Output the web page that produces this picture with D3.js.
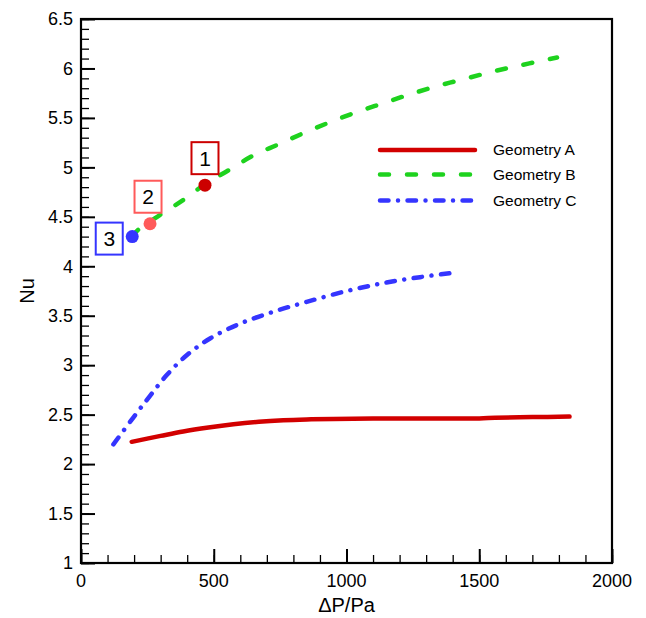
<!DOCTYPE html>
<html>
<head>
<meta charset="utf-8">
<script src="https://cdn.jsdelivr.net/npm/d3@7"></script>
<style>
  html, body { margin: 0; padding: 0; background: #fff; }
  svg { display: block; font-family: "Liberation Sans", Arial, Helvetica, sans-serif; }
</style>
</head>
<body>
<svg id="chart" width="646" height="618"></svg>
<script>
// Pressure drop (Pa) vs. Nusselt number for three geometries
const xGeomA = [191, 300, 385, 480, 574, 670, 762, 850, 950, 1100, 1300, 1500, 1560, 1700, 1840];
const nuGeomA = [2.225, 2.285, 2.33, 2.37, 2.403, 2.428, 2.443, 2.451, 2.456, 2.46, 2.46, 2.462, 2.468, 2.475, 2.48];

const xGeomB = [192, 216, 298, 385, 467, 555, 649, 750, 850, 950, 1051, 1151, 1252, 1352, 1453, 1553, 1653, 1754, 1793];
const nuGeomB = [4.30, 4.37, 4.52, 4.67, 4.83, 4.97, 5.12, 5.24, 5.36, 5.47, 5.57, 5.66, 5.75, 5.83, 5.90, 5.97, 6.03, 6.09, 6.11];

const xGeomC = [122, 197, 260, 323, 398, 486, 599, 724, 850, 1001, 1139, 1277, 1420];
const nuGeomC = [2.20, 2.47, 2.69, 2.90, 3.10, 3.27, 3.42, 3.54, 3.64, 3.75, 3.83, 3.89, 3.94];

const seriesNames = ["Geometry A", "Geometry B", "Geometry C"];

// Highlighted operating points
const pointLabels = ["1", "2", "3"];
const pointX = [467, 260, 193];
const pointNu = [4.82, 4.43, 4.30];

const xTickValues = [0, 500, 1000, 1500, 2000];
const yTickValues = [1, 1.5, 2, 2.5, 3, 3.5, 4, 4.5, 5, 5.5, 6, 6.5];

const svg = d3.select("#chart");
const plot = { left: 81, right: 612, top: 19, bottom: 563 };

const x = d3.scaleLinear().domain([0, 2000]).range([plot.left, plot.right]);
const y = d3.scaleLinear().domain([1, 6.5]).range([plot.bottom, plot.top]);

const styles = [
  { color: "#d20000", dash: null },
  { color: "#1ed21e", dash: "9,18" },
  { color: "#3535ff", dash: "8.5,9.5,0.01,9.5" }
];

// Series curves
const seriesData = [
  d3.zip(xGeomA, nuGeomA),
  d3.zip(xGeomB, nuGeomB),
  d3.zip(xGeomC, nuGeomC)
];
const line = d3.line().x(d => x(d[0])).y(d => y(d[1])).curve(d3.curveCatmullRom.alpha(0.5));

seriesData.forEach((data, i) => {
  svg.append("path")
    .attr("d", line(data))
    .attr("fill", "none")
    .attr("stroke", styles[i].color)
    .attr("stroke-width", 4.5)
    .attr("stroke-linecap", "round")
    .attr("stroke-linejoin", "round")
    .attr("stroke-dasharray", styles[i].dash);
});

// Axes with inward ticks (minor + major)
const xMinor = d3.range(0, 2001, 100);
const yMinor = d3.range(1, 6.501, 0.1);

svg.append("g")
  .attr("transform", `translate(0,${plot.bottom})`)
  .call(d3.axisTop(x).tickValues(xMinor).tickSize(8).tickFormat(""))
  .call(g => g.select(".domain").remove())
  .call(g => g.selectAll("line").attr("stroke-width", 1.3));
svg.append("g")
  .attr("transform", `translate(0,${plot.bottom})`)
  .call(d3.axisTop(x).tickValues(xTickValues).tickSize(14).tickFormat(""))
  .call(g => g.select(".domain").remove())
  .call(g => g.selectAll("line").attr("stroke-width", 2));

svg.append("g")
  .attr("transform", `translate(${plot.left},0)`)
  .call(d3.axisRight(y).tickValues(yMinor).tickSize(8).tickFormat(""))
  .call(g => g.select(".domain").remove())
  .call(g => g.selectAll("line").attr("stroke-width", 1.3));
svg.append("g")
  .attr("transform", `translate(${plot.left},0)`)
  .call(d3.axisRight(y).tickValues(yTickValues).tickSize(14).tickFormat(""))
  .call(g => g.select(".domain").remove())
  .call(g => g.selectAll("line").attr("stroke-width", 2));

// Tick labels
svg.append("g").selectAll("text")
  .data(xTickValues).join("text")
  .attr("x", d => x(d)).attr("y", plot.bottom + 24)
  .attr("text-anchor", "middle")
  .attr("font-size", 18)
  .text(d => d);

svg.append("g").selectAll("text")
  .data(yTickValues).join("text")
  .attr("x", plot.left - 8).attr("y", d => y(d))
  .attr("dy", "0.35em")
  .attr("text-anchor", "end")
  .attr("font-size", 18)
  .text(d => d);

// Frame
svg.append("rect")
  .attr("x", plot.left).attr("y", plot.top)
  .attr("width", plot.right - plot.left).attr("height", plot.bottom - plot.top)
  .attr("fill", "none").attr("stroke", "#000").attr("stroke-width", 2.2);

// Axis titles
svg.append("text")
  .attr("x", (plot.left + plot.right) / 2).attr("y", 612)
  .attr("text-anchor", "middle").attr("font-size", 20)
  .text("ΔP/Pa");
svg.append("text")
  .attr("transform", `translate(34,${(plot.top + plot.bottom) / 2}) rotate(-90)`)
  .attr("text-anchor", "middle").attr("font-size", 20)
  .text("Nu");

// Legend
const legend = svg.append("g").attr("transform", "translate(378,150)");
seriesNames.forEach((name, i) => {
  const row = legend.append("g").attr("transform", `translate(0,${[0, 24.5, 50.5][i]})`);
  row.append("line")
    .attr("x1", 2).attr("x2", 97).attr("y1", 0).attr("y2", 0)
    .attr("stroke", styles[i].color).attr("stroke-width", 4.5)
    .attr("stroke-linecap", "round")
    .attr("stroke-dasharray", styles[i].dash);
  row.append("text")
    .attr("x", 115).attr("y", 0).attr("dy", "0.35em")
    .attr("font-size", 15.5)
    .text(name);
});

// Marked points with numbered boxes
const pointColors = ["#cc0000", "#ff5a5a", "#3535ff"];
const boxOffsets = [[0, -27], [-2, -27], [-23, 2]];
pointLabels.forEach((lab, i) => {
  const px = x(pointX[i]), py = y(pointNu[i]);
  svg.append("circle")
    .attr("cx", px).attr("cy", py).attr("r", 6.5)
    .attr("fill", pointColors[i]);
  const cx = px + boxOffsets[i][0], cy = py + boxOffsets[i][1];
  svg.append("rect")
    .attr("x", cx - 13.5).attr("y", cy - 16)
    .attr("width", 27).attr("height", 32)
    .attr("fill", "#fff")
    .attr("stroke", pointColors[i]).attr("stroke-width", 2);
  svg.append("text")
    .attr("x", cx).attr("y", cy).attr("dy", "0.36em")
    .attr("text-anchor", "middle").attr("font-size", 21)
    .text(lab);
});
</script>
</body>
</html>
